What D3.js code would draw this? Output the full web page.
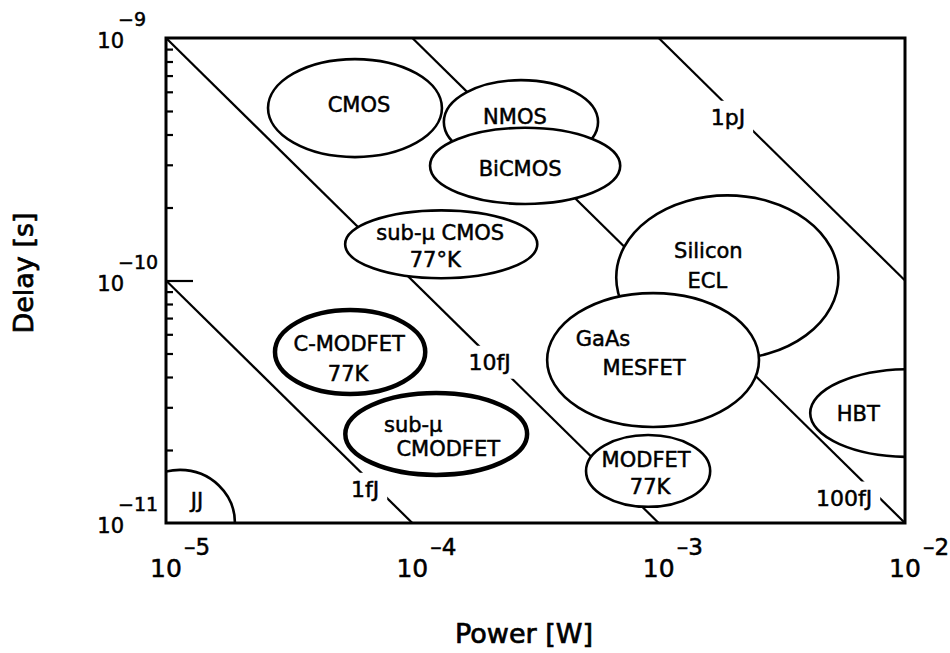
<!DOCTYPE html>
<html>
<head>
<meta charset="utf-8">
<script src="https://cdn.jsdelivr.net/npm/d3@7"></script>
<style>
  body { margin: 0; background: #fff; }
  svg { display: block; font-family: "DejaVu Sans", sans-serif; }
  text { fill: #000; stroke: #000; stroke-width: 0.5px; }
  .tech-label { font-size: 21px; }
  .energy-label { font-size: 22px; }
  .axis-title { font-size: 27px; stroke-width: 0.7px; }
</style>
</head>
<body>
<div id="chart"></div>
<script>
// axis ticks (decades)
const powerTicks = [1e-5, 1e-4, 1e-3, 1e-2];
const delayTicks = [1e-11, 1e-10, 1e-9];

// constant switching-energy lines
const energies = [1e-15, 1e-14, 1e-13, 1e-12];
const energyNames = ["1fJ", "10fJ", "100fJ", "1pJ"];
const energyLabelPower = [6.43e-5, 2.06e-4, 5.66e-3, 1.91e-3];
const energyLabelDelay = [1.38e-11, 4.61e-11, 1.27e-11, 4.72e-10];

// technology regions: centre (W, s) and half-extent in decades
const techNames = ["CMOS", "NMOS", "BiCMOS", "sub-\u00b5 CMOS|77\u00b0K", "Silicon|ECL", "GaAs|MESFET",
  "HBT", "MODFET|77K", "C-MODFET|77K", "sub-\u00b5|CMODFET", "JJ"];
const techPower = [5.85e-5, 2.76e-4, 2.87e-4, 1.31e-4, 1.90e-3, 9.49e-4, 1.05e-2, 9.06e-4, 5.59e-5, 1.25e-4, 1.14e-5];
const techDelay = [5.14e-10, 4.50e-10, 2.97e-10, 1.41e-10, 1.03e-10, 4.70e-11, 2.84e-11, 1.64e-11, 5.07e-11, 2.33e-11, 1e-11];
const techPowerSpan = [0.353, 0.313, 0.386, 0.390, 0.451, 0.430, 0.406, 0.252, 0.305, 0.369, 0.223];
const techDelaySpan = [0.202, 0.173, 0.157, 0.140, 0.338, 0.276, 0.181, 0.148, 0.173, 0.169, 0.219];
const techCryo = [false, false, false, false, false, false, false, false, true, true, false];

const width = 950, height = 653;
const margin = { left: 166, right: 45, top: 38, bottom: 130 };

const svg = d3.select("#chart").append("svg")
  .attr("width", width)
  .attr("height", height);

const xScale = d3.scaleLog().domain([1e-5, 1e-2]).range([margin.left, width - margin.right]);
const yScale = d3.scaleLog().domain([1e-11, 1e-9]).range([height - margin.bottom, margin.top]);

const x0 = xScale.range()[0], x1 = xScale.range()[1];
const y0 = yScale.range()[1], y1 = yScale.range()[0];

svg.append("clipPath").attr("id", "plot-clip")
  .append("rect")
  .attr("x", x0).attr("y", y0)
  .attr("width", x1 - x0).attr("height", y1 - y0);

const plot = svg.append("g").attr("clip-path", "url(#plot-clip)");

// energy lines P * t = E
const line = d3.line().x(d => xScale(d[0])).y(d => yScale(d[1]));
plot.selectAll("path.energy")
  .data(energies)
  .join("path")
    .attr("class", "energy")
    .attr("d", e => line([[e / 1e-9, 1e-9], [e / 1e-11, 1e-11]]))
    .attr("fill", "none")
    .attr("stroke", "#000")
    .attr("stroke-width", 2.2);

// energy labels with white knock-out behind them
const eLabels = plot.selectAll("g.elabel")
  .data(energyNames)
  .join("g")
    .attr("class", "elabel")
    .attr("transform", (d, i) => `translate(${xScale(energyLabelPower[i])},${yScale(energyLabelDelay[i])})`);

eLabels.append("rect").attr("fill", "#fff");
eLabels.append("text")
  .attr("class", "energy-label")
  .attr("text-anchor", "middle")
  .attr("dy", "0.35em")
  .text(d => d);
eLabels.each(function() {
  const g = d3.select(this);
  const bb = g.select("text").node().getBBox();
  g.select("rect")
    .attr("x", bb.x - 8).attr("y", bb.y - 4)
    .attr("width", bb.width + 16).attr("height", bb.height + 8);
});

// technology ellipses (white filled, later ones overlap earlier ones)
const nudge = {
  "CMOS": [[4, -4]],
  "NMOS": [[-6, -6]],
  "BiCMOS": [[-5, 3]],
  "sub-\u00b5 CMOS|77\u00b0K": [[-1, -12], [-6, 15]],
  "Silicon|ECL": [[-19, -27], [-20, 3]],
  "GaAs|MESFET": [[-50, -22], [-9, 7]],
  "HBT": [[-52, 0]],
  "MODFET|77K": [[-2, -11], [2, 16]],
  "C-MODFET|77K": [[-1, -9], [-2, 21]],
  "sub-\u00b5|CMODFET": [[-23, -9], [12, 15]],
  "JJ": [[17, -23]]
};

const techs = plot.selectAll("g.tech")
  .data(techNames)
  .join("g")
    .attr("class", "tech")
    .attr("transform", (d, i) => `translate(${xScale(techPower[i])},${yScale(techDelay[i])})`);

techs.append("ellipse")
  .attr("rx", (d, i) => xScale(techPower[i] * Math.pow(10, techPowerSpan[i])) - xScale(techPower[i]))
  .attr("ry", (d, i) => yScale(techDelay[i]) - yScale(techDelay[i] * Math.pow(10, techDelaySpan[i])))
  .attr("fill", "#fff")
  .attr("stroke", "#000")
  .attr("stroke-width", (d, i) => techCryo[i] ? 4.5 : 2.6);

techs.each(function(name) {
  const parts = name.split("|");
  d3.select(this).selectAll("text")
    .data(parts)
    .join("text")
      .attr("class", "tech-label")
      .attr("text-anchor", "middle")
      .attr("x", (p, j) => nudge[name][j][0])
      .attr("y", (p, j) => nudge[name][j][1])
      .attr("dy", "0.36em")
      .text(p => p);
});

// frame
svg.append("rect")
  .attr("x", x0).attr("y", y0)
  .attr("width", x1 - x0).attr("height", y1 - y0)
  .attr("fill", "none")
  .attr("stroke", "#000")
  .attr("stroke-width", 3);

// left axis: minor ticks inside the frame, a long one at 1e-10
const yAxis = svg.append("g")
  .attr("transform", `translate(${x0},0)`)
  .call(d3.axisRight(yScale).tickSize(7).tickFormat(""));
yAxis.select(".domain").remove();
yAxis.selectAll(".tick line")
  .attr("stroke-width", 2.2)
  .attr("x2", d => {
    const e = Math.log10(d);
    if (Math.abs(e - Math.round(e)) > 1e-6) return 7;
    return d === 1e-10 ? 27 : 0;
  });

// tick labels written as 10 with a raised exponent
const xLab = svg.append("g").selectAll("g")
  .data(powerTicks)
  .join("g")
    .attr("transform", d => `translate(${xScale(d)},${y1})`);
xLab.append("text")
  .attr("text-anchor", "middle")
  .attr("y", 54)
  .attr("font-size", 25)
  .text("10");
xLab.append("text")
  .attr("x", 18)
  .attr("y", 32)
  .attr("font-size", 23)
  .text(d => "\u2013" + Math.round(-Math.log10(d)));

const yLab = svg.append("g").selectAll("g")
  .data(delayTicks)
  .join("g")
    .attr("transform", d => `translate(${x0},${yScale(d)})`);
yLab.append("text")
  .attr("text-anchor", "end")
  .attr("x", -42)
  .attr("y", 10)
  .attr("font-size", 21)
  .text("10");
yLab.append("text")
  .attr("x", -48)
  .attr("y", -12)
  .attr("font-size", 19)
  .text(d => "\u2212" + Math.round(-Math.log10(d)));

// axis titles
svg.append("text")
  .attr("class", "axis-title")
  .attr("text-anchor", "middle")
  .attr("x", 524)
  .attr("y", 643)
  .text("Power [W]");

svg.append("text")
  .attr("class", "axis-title")
  .attr("text-anchor", "middle")
  .attr("transform", "translate(33,273) rotate(-90)")
  .text("Delay [s]");
</script>
</body>
</html>
